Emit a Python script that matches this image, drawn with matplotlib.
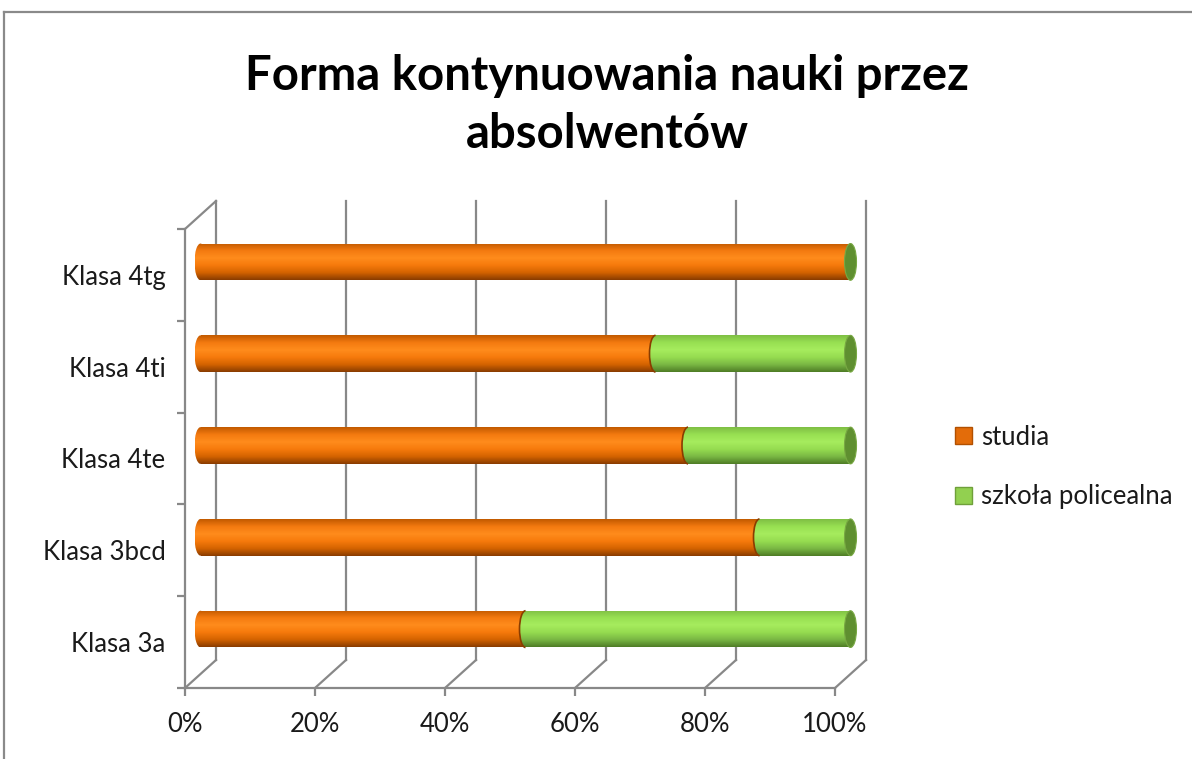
import numpy as np
import matplotlib
matplotlib.use("Agg")
import matplotlib.pyplot as plt
from matplotlib.patches import Ellipse, Rectangle, Arc, Patch
from matplotlib.transforms import offset_copy
from matplotlib.lines import Line2D

# ---------------- data ----------------
categories = ["Klasa 3a", "Klasa 3bcd", "Klasa 4te", "Klasa 4ti", "Klasa 4tg"]
studia = [50, 86, 75, 70, 100]
policealna = [50, 14, 25, 30, 0]
series_names = ["studia", "szkoła policealna"]
x_ticks = [0, 20, 40, 60, 80, 100]
x_ticklabels = ["0%", "20%", "40%", "60%", "80%", "100%"]
title = "Forma kontynuowania nauki przez\nabsolwentów"

# ---------------- style ----------------
W, H, DPI = 1192, 759, 100
FONT = "Lato"
GRID = "#888888"
LBL = 18.5
orange_stops = ["#c25a00", "#f47a10", "#ff8c1c", "#f67a0c", "#d46300", "#8a3c00"]
green_stops = ["#7fbf44", "#98e052", "#a6ec5e", "#96dc50", "#7ab844", "#4f7d26"]
cap_green = "#5f8f30"

fig = plt.figure(figsize=(W / DPI, H / DPI), dpi=DPI)
ax_l, ax_r, ax_b, ax_t = 185, 835, 688, 229
ax = fig.add_axes([ax_l / W, 1 - ax_b / H, (ax_r - ax_l) / W, (ax_b - ax_t) / H])
ax.set_xlim(0, 100)
ax.set_ylim(-0.5, len(categories) - 0.5)
ax.patch.set_visible(False)

px_x = (ax_r - ax_l) / 100.0           # pixels per percent
px_y = (ax_b - ax_t) / len(categories)  # pixels per category

depth_dx, depth_dy = 31, 28  # back wall offset in px
ddx, ddy = depth_dx / px_x, depth_dy / px_y

# spines & ticks
for s in ["top", "right"]:
    ax.spines[s].set_visible(False)
for s in ["left", "bottom"]:
    ax.spines[s].set_color(GRID)
    ax.spines[s].set_linewidth(1.6)
ax.set_xticks(x_ticks)
ax.set_xticklabels(x_ticklabels)
ax.set_yticks(range(len(categories)))
ax.set_yticklabels(categories)
ax.set_yticks(np.arange(-0.5, len(categories)), minor=True)
ax.tick_params(axis="y", which="major", length=0, pad=14)
ax.tick_params(axis="y", which="minor", length=6, width=1.6, color=GRID)
ax.tick_params(axis="x", length=6, width=1.6, color=GRID, pad=11)
for lab in ax.get_xticklabels() + ax.get_yticklabels():
    lab.set_fontfamily(FONT)
    lab.set_fontsize(LBL)
    lab.set_color("#1a1a1a")

# back wall grid + floor diagonals
y0, y1 = -0.5, len(categories) - 0.5
for x in x_ticks:
    ax.plot([x + ddx, x + ddx], [y0 + ddy, y1 + ddy], color=GRID, lw=1.6, clip_on=False, zorder=1)
    ax.plot([x, x + ddx], [y0, y0 + ddy], color=GRID, lw=1.6, clip_on=False, zorder=1)
ax.plot([0, ddx], [y1, y1 + ddy], color=GRID, lw=1.6, clip_on=False, zorder=1)

# bars (mid depth)
bar_tr = offset_copy(ax.transData, fig=fig, x=depth_dx / 2, y=depth_dy / 2 - 1, units="dots")
bh = 0.40
cap_w = 12 / px_x


def grad_img(stops, n=64):
    cols = np.array([matplotlib.colors.to_rgb(c) for c in stops])
    pos = np.linspace(0, 1, len(stops))
    t = np.linspace(0, 1, n)
    img = np.stack([np.interp(t, pos, cols[:, k]) for k in range(3)], axis=1)
    return img[:, None, :]  # top -> bottom


g_or = grad_img(orange_stops)
g_gr = grad_img(green_stops)


def fill_grad(img, x0, x1, yc, clip_patch, z):
    im = ax.imshow(img, extent=(x0, x1, yc - bh / 2, yc + bh / 2), origin="upper",
                   aspect="auto", transform=bar_tr, zorder=z, interpolation="bilinear")
    ax.add_patch(clip_patch)
    clip_patch.set_visible(False)
    clip_patch.set_clip_on(False)
    im.set_clip_path(clip_patch)
    return im


for i, (a, b) in enumerate(zip(studia, policealna)):
    # orange segment with rounded left end
    fill_grad(g_or, -cap_w / 2, a, i,
              Rectangle((0, i - bh / 2), a, bh, transform=bar_tr), 3)
    fill_grad(g_or, -cap_w / 2, cap_w / 2, i,
              Ellipse((0, i), cap_w, bh, transform=bar_tr), 3)
    if b > 0:
        fill_grad(g_gr, a, a + b, i,
                  Rectangle((a, i - bh / 2), b, bh, transform=bar_tr), 4)
        fill_grad(g_gr, a - cap_w / 2, a + cap_w / 2, i,
                  Ellipse((a, i), cap_w, bh, transform=bar_tr), 5)
        ax.add_patch(Arc((a, i), cap_w, bh, theta1=90, theta2=270, transform=bar_tr,
                         color="#8a3c00", lw=1.2, zorder=6, clip_on=False))
    end = a + b
    ax.add_patch(Ellipse((end, i), cap_w, bh, transform=bar_tr, facecolor=cap_green,
                         edgecolor="#78a843", lw=0.8, zorder=7, clip_on=False))

ax.set_xlim(0, 100)
ax.set_ylim(-0.5, len(categories) - 0.5)

# legend
handles = [Patch(facecolor="#e36c0a", edgecolor="#b25000", label=series_names[0]),
           Patch(facecolor="#92d050", edgecolor="#6fa03a", label=series_names[1])]
leg = fig.legend(handles=handles, loc="center left", bbox_to_anchor=(932 / W, 1 - 467 / H),
                 frameon=False, handlelength=0.65, handleheight=0.65, handletextpad=0.35,
                 labelspacing=1.35, prop={"family": FONT, "size": LBL})
for t in leg.get_texts():
    t.set_color("#1a1a1a")

# title
fig.text(607 / W, 1 - 105 / H, title, ha="center", va="center", fontfamily=FONT,
         fontweight="bold", fontsize=34, linespacing=1.4, color="black")

# chart area frame (top and left edges visible)
fig.add_artist(Line2D([4 / W, 1.0], [1 - 12 / H, 1 - 12 / H], transform=fig.transFigure,
                      color="#8a8a8a", lw=1.6))
fig.add_artist(Line2D([4 / W, 4 / W], [0, 1 - 12 / H], transform=fig.transFigure,
                      color="#8a8a8a", lw=1.6))

fig.savefig("out.png", dpi=DPI, facecolor="white")
